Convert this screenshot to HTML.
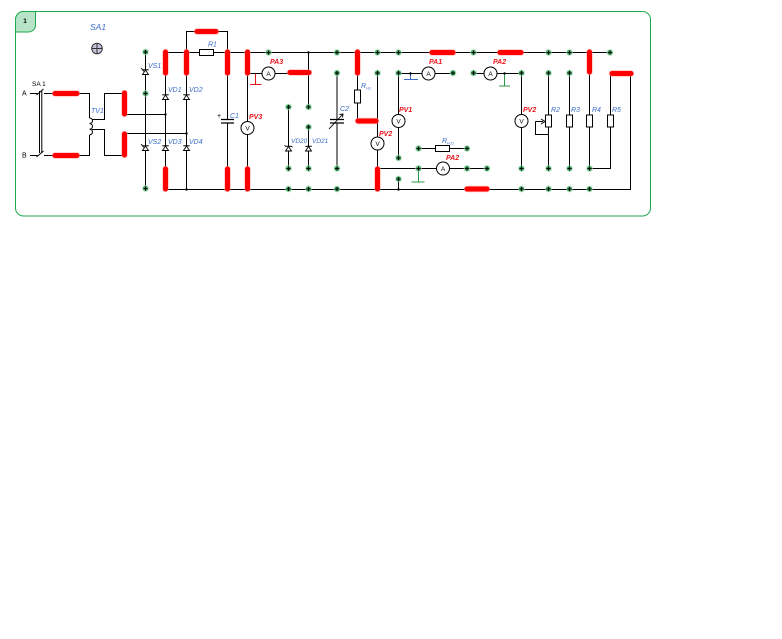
<!DOCTYPE html>
<html>
<head>
<meta charset="utf-8">
<style>
  html,body{margin:0;padding:0;background:#fff;}
  body{width:782px;height:639px;overflow:hidden;}
  svg{display:block;}
  .w{stroke:#000;stroke-width:1;fill:none;}
  .r{stroke:#ff0000;stroke-width:5;stroke-linecap:round;fill:none;}
  .rh{stroke:#ff9a9a;stroke-width:6.5;stroke-linecap:round;fill:none;opacity:.6;}
  .lb{font-family:"Liberation Sans",sans-serif;font-style:italic;font-size:7px;fill:#3a6cc8;}
  .lr{font-family:"Liberation Sans",sans-serif;font-style:italic;font-weight:bold;font-size:7px;fill:#e8141b;}
  .lk{font-family:"Liberation Sans",sans-serif;font-size:7px;fill:#000;}
  .mt{font-family:"Liberation Sans",sans-serif;font-size:6.5px;fill:#000;text-anchor:middle;}
</style>
</head>
<body>
<svg width="782" height="639" viewBox="0 0 782 639" xmlns="http://www.w3.org/2000/svg">
  <defs>
    <g id="nd">
      <circle cx="0" cy="0" r="3.4" fill="#9fd6b0" opacity="0.7"/>
      <circle cx="0" cy="0" r="2.5" fill="#3fa863"/>
      <path d="M-2 0H2M0 -2V2" stroke="#000" stroke-width="1"/>
    </g>
    <g id="dup">
      <path d="M-3 2.5L3 2.5L0 -2Z" fill="#fff" stroke="#000" stroke-width="0.9"/>
      <path d="M-3.2 -2.2H3.2" stroke="#000" stroke-width="1"/>
    </g>
    <g id="thy">
      <path d="M-3 2.5L3 2.5L0 -2Z" fill="#fff" stroke="#000" stroke-width="0.9"/>
      <path d="M-3.2 -2.2H3.2" stroke="#000" stroke-width="1"/>
      <path d="M-1.5 -0.5L-4.5 -4" stroke="#000" stroke-width="0.9"/>
    </g>
  </defs>

  <rect x="15.5" y="11.5" width="635" height="204.5" rx="8" ry="8" fill="none" stroke="#1faa50" stroke-width="1"/>
  <path d="M15.5 32 V19.5 A8 8 0 0 1 23.5 11.5 H35.5 V25 A7 7 0 0 1 28.5 32 Z" fill="#b7e3c6" stroke="#1faa50" stroke-width="1"/>
  <text x="25" y="23" class="lk" style="font-weight:bold;font-size:6.5px" text-anchor="middle">1</text>

  <text x="90" y="30" style="font-family:'Liberation Sans',sans-serif;font-style:italic;font-size:8.5px;fill:#3a6cc8">SA1</text>
  <circle cx="97" cy="48.5" r="5.3" fill="#c9c1dd" stroke="#333" stroke-width="1"/>
  <path d="M91.7 48.5H102.3M97 43.2V53.8" stroke="#333" stroke-width="1"/>

  <g class="w">
    <path d="M30 93.5H37.5"/>
    <path d="M36.5 95L43.5 89"/>
    <path d="M44 93.5H53"/>
    <path d="M39.5 91V153M41.8 91V153"/>
    <path d="M30 155.5H37.5"/>
    <path d="M36.5 157L43.5 151"/>
    <path d="M44 155.5H53"/>
    <path d="M79 93.5H89.5V118"/>
    <path d="M89.5 118 a3 2.8 0 0 1 0 5.6 a3 2.8 0 0 1 0 5.6 a3 2.8 0 0 1 0 5.6"/>
    <path d="M89.5 135V155.5H79"/>
    <path d="M92 119.5H104.5V93.5H122"/>
    <path d="M92 129.5H104.5V155.5H122"/>
    <path d="M126 114.5H165.5"/>
    <path d="M126 133.5H186.5"/>
    <path d="M145.5 52V188"/>
    <path d="M165.5 74V168"/>
    <path d="M186.5 74V189.5"/>
    <path d="M165.5 52.5H610"/>
    <path d="M186.5 52.5V31.5H227.5V52.5"/>
    <path d="M227.5 74V119M227.5 123V168"/>
    <path d="M247.5 74V121.5M247.5 134.5V168"/>
    <path d="M247.5 73.5H262M275 73.5H288"/>
    <path d="M308.5 52.5V107"/>
    <path d="M288.5 107V168"/>
    <path d="M308.5 127V168"/>
    <path d="M337 73V119M337 123V168"/>
    <path d="M357.5 74V90M357.5 103V121"/>
    <path d="M377.5 73V137M377.5 150V168"/>
    <path d="M398.5 73V114.5M398.5 127.5V158"/>
    <path d="M398.5 73.5H422M434.5 73.5H453"/>
    <path d="M473 73.5H484M496.5 73.5H521"/>
    <path d="M377.5 168.5H436.5M449.5 168.5H487"/>
    <path d="M418.5 148.5H435M449 148.5H467"/>
    <path d="M398.5 179V189"/>
    <path d="M165.5 189.5H630.5V73.5"/>
    <path d="M521.5 73V114.5M521.5 127.5V168"/>
    <path d="M548.5 73V115M548.5 127V168"/>
    <path d="M569.5 73V115M569.5 127V168"/>
    <path d="M589.5 73V115M589.5 127V168"/>
    <path d="M610.5 73V115M610.5 127V168.5H589.5"/>
    <path d="M535.5 121.5H543M535.5 121.5V134.5H548.5"/>
  </g>

  <path d="M541 119L545 121.5L541 124" fill="none" stroke="#000" stroke-width="1"/>

  <g fill="#fff" stroke="#000" stroke-width="1">
    <rect x="199.5" y="49.5" width="14" height="6"/>
    <rect x="354.5" y="90" width="6" height="13"/>
    <rect x="435.5" y="145.5" width="14" height="6"/>
    <rect x="545.5" y="115" width="6" height="12"/>
    <rect x="566.5" y="115" width="6" height="12"/>
    <rect x="586.5" y="115" width="6" height="12"/>
    <rect x="607.5" y="115" width="6" height="12"/>
  </g>

  <g stroke="#000" stroke-width="1.2">
    <path d="M221 119.5H234M221 123H234"/>
    <path d="M330 119.5H344M330 123H344"/>
  </g>
  <path d="M329 129L343 114" stroke="#000" stroke-width="0.9"/>
  <path d="M339.5 114.5L343 114L342.5 117.5" fill="none" stroke="#000" stroke-width="0.9"/>
  <text x="217" y="118" class="lk">+</text>

  <path d="M255.5 73.5V84.5M250 84.5H261.5" stroke="#e8141b" stroke-width="1" fill="none"/>
  <path d="M410.5 73.5V79.5M404 79.5H418" stroke="#3a6cc8" stroke-width="1" fill="none"/>
  <path d="M504.5 73.5V86M499 86H510" stroke="#2a9a4a" stroke-width="1" fill="none"/>
  <path d="M418.5 168.5V182M411.5 182H424.5" stroke="#2a9a4a" stroke-width="1" fill="none"/>

  <use href="#thy" x="145.5" y="72"/>
  <use href="#thy" x="145.5" y="148"/>
  <use href="#dup" x="165.5" y="97"/>
  <use href="#dup" x="186.5" y="97"/>
  <use href="#dup" x="165.5" y="148"/>
  <use href="#dup" x="186.5" y="148"/>
  <use href="#dup" x="288.5" y="148.5"/>
  <use href="#dup" x="308.5" y="148.5"/>
  <path d="M285.5 146.3L284.5 145.3M291.5 146.3L292.5 147.3" stroke="#000" stroke-width="0.8"/>

  <g fill="#fff" stroke="#000" stroke-width="1">
    <circle cx="247.5" cy="128" r="6.5"/>
    <circle cx="268.5" cy="73.5" r="6.5"/>
    <circle cx="377.5" cy="143.5" r="6.5"/>
    <circle cx="398.5" cy="121" r="6.5"/>
    <circle cx="428.5" cy="73.5" r="6.5"/>
    <circle cx="490.5" cy="73.5" r="6.5"/>
    <circle cx="443" cy="168.5" r="6.5"/>
    <circle cx="521.5" cy="121" r="6.5"/>
  </g>
  <g class="mt">
    <text x="247.5" y="130.5">V</text>
    <text x="268.5" y="76">A</text>
    <text x="377.5" y="146">V</text>
    <text x="398.5" y="123.5">V</text>
    <text x="428.5" y="76">A</text>
    <text x="490.5" y="76">A</text>
    <text x="443" y="171">A</text>
    <text x="521.5" y="123.5">V</text>
  </g>

  <g fill="#000">
    <circle cx="308.5" cy="52.5" r="1.2"/>
    <circle cx="165.5" cy="114.5" r="1.2"/>
    <circle cx="186.5" cy="133.5" r="1.2"/>
    <circle cx="186.5" cy="189.5" r="1.2"/>
    <circle cx="398.5" cy="189.5" r="1.2"/>
    <circle cx="410.5" cy="73.5" r="1.2"/>
    <circle cx="504.5" cy="73.5" r="1.2"/>
  </g>

  <path class="rh" d="M55 93.5H77M55 155.5H77M124.5 93V114M124.5 134V155M165.5 52V73M186.5 52V73M227.5 52V73M247.5 52V73M197 31.5H216M165.5 169V189M227.5 169V189M247.5 169V189M290 72.5H309M357.5 52V73M358 121H376M377.5 169V189M432 52.5H453M500 52.5H521M589.5 52V72M612 73.5H631M467 189H487"/>
  <path class="r" d="M55 93.5H77M55 155.5H77M124.5 93V114M124.5 134V155M165.5 52V73M186.5 52V73M227.5 52V73M247.5 52V73M197 31.5H216M165.5 169V189M227.5 169V189M247.5 169V189M290 72.5H309M357.5 52V73M358 121H376M377.5 169V189M432 52.5H453M500 52.5H521M589.5 52V72M612 73.5H631M467 189H487"/>

  <use href="#nd" x="145.5" y="52"/>
  <use href="#nd" x="145.5" y="93.5"/>
  <use href="#nd" x="145.5" y="188.5"/>
  <use href="#nd" x="268.5" y="52.5"/>
  <use href="#nd" x="337" y="52.5"/>
  <use href="#nd" x="377.5" y="52.5"/>
  <use href="#nd" x="398.5" y="52.5"/>
  <use href="#nd" x="473.5" y="52.5"/>
  <use href="#nd" x="548.5" y="52.5"/>
  <use href="#nd" x="569.5" y="52.5"/>
  <use href="#nd" x="610" y="52.5"/>
  <use href="#nd" x="337" y="73"/>
  <use href="#nd" x="377.5" y="73"/>
  <use href="#nd" x="398.5" y="73"/>
  <use href="#nd" x="453" y="73"/>
  <use href="#nd" x="473.5" y="73"/>
  <use href="#nd" x="521.5" y="73"/>
  <use href="#nd" x="548.5" y="73"/>
  <use href="#nd" x="569.5" y="73"/>
  <use href="#nd" x="288.5" y="107"/>
  <use href="#nd" x="308.5" y="107"/>
  <use href="#nd" x="308.5" y="127"/>
  <use href="#nd" x="288.5" y="168.5"/>
  <use href="#nd" x="308.5" y="168.5"/>
  <use href="#nd" x="337" y="168.5"/>
  <use href="#nd" x="288.5" y="189"/>
  <use href="#nd" x="308.5" y="189"/>
  <use href="#nd" x="337" y="189"/>
  <use href="#nd" x="398.5" y="158"/>
  <use href="#nd" x="398.5" y="179"/>
  <use href="#nd" x="418.5" y="148.5"/>
  <use href="#nd" x="467" y="148.5"/>
  <use href="#nd" x="418.5" y="168.5"/>
  <use href="#nd" x="467" y="168.5"/>
  <use href="#nd" x="487" y="168.5"/>
  <use href="#nd" x="521.5" y="168.5"/>
  <use href="#nd" x="548.5" y="168.5"/>
  <use href="#nd" x="569.5" y="168.5"/>
  <use href="#nd" x="589.5" y="168.5"/>
  <use href="#nd" x="521.5" y="189"/>
  <use href="#nd" x="548.5" y="189"/>
  <use href="#nd" x="569.5" y="189"/>
  <use href="#nd" x="589.5" y="189"/>

  <text x="32" y="86" class="lk" style="font-size:6.5px">SA 1</text>
  <text x="22" y="95.5" class="lk">A</text>
  <text x="22" y="157.5" class="lk">B</text>
  <text x="91" y="113" class="lb">TV1</text>
  <text x="148" y="68" class="lb">VS1</text>
  <text x="168" y="92" class="lb">VD1</text>
  <text x="189" y="92" class="lb">VD2</text>
  <text x="148" y="144" class="lb">VS2</text>
  <text x="168" y="144" class="lb">VD3</text>
  <text x="189" y="144" class="lb">VD4</text>
  <text x="208" y="46.5" class="lb">R1</text>
  <text x="230" y="118" class="lb">C1</text>
  <text x="249" y="119" class="lr">PV3</text>
  <text x="270" y="64" class="lr">PA3</text>
  <text x="291" y="143" class="lb" style="font-size:6.5px">VD20</text>
  <text x="312" y="143" class="lb" style="font-size:6.5px">VD21</text>
  <text x="340" y="111" class="lb">C2</text>
  <text x="361" y="88" class="lb">R<tspan style="font-size:4px" dy="1.5">H1</tspan></text>
  <text x="379" y="136" class="lr">PV2</text>
  <text x="399" y="112" class="lr">PV1</text>
  <text x="429" y="64" class="lr">PA1</text>
  <text x="493" y="64" class="lr">PA2</text>
  <text x="442" y="143" class="lb">R<tspan style="font-size:4px" dy="1.5">H11</tspan></text>
  <text x="446" y="160" class="lr">PA2</text>
  <text x="523" y="112" class="lr">PV2</text>
  <text x="551" y="112" class="lb">R2</text>
  <text x="571" y="112" class="lb">R3</text>
  <text x="592" y="112" class="lb">R4</text>
  <text x="612" y="112" class="lb">R5</text>
</svg>
</body>
</html>
